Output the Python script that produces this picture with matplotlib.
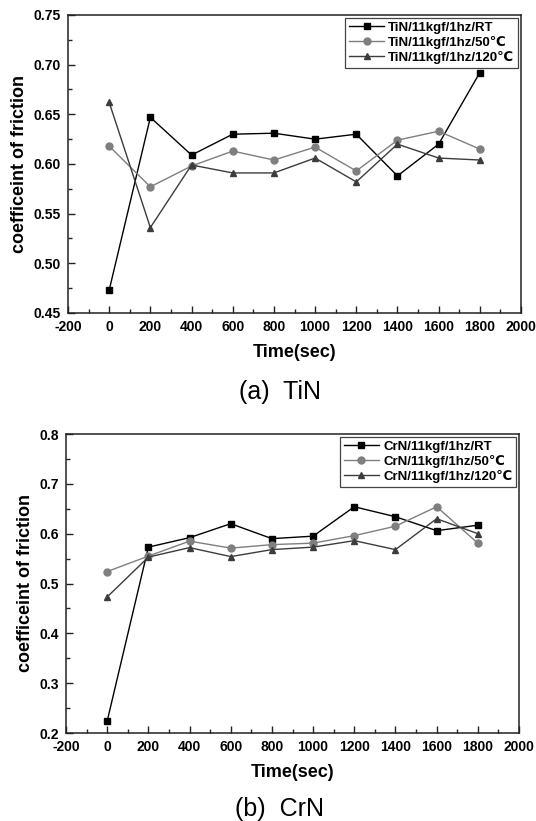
import matplotlib
matplotlib.use("Agg")
import matplotlib.pyplot as plt
from matplotlib.ticker import MultipleLocator, FormatStrFormatter

plt.rcParams['font.family'] = ['Liberation Sans', 'DejaVu Sans']
plt.rcParams['axes.unicode_minus'] = False

time = [0, 200, 400, 600, 800, 1000, 1200, 1400, 1600, 1800]

tin_rt = [0.473, 0.647, 0.609, 0.630, 0.631, 0.625, 0.630, 0.588, 0.620, 0.692]
tin_50 = [0.618, 0.577, 0.598, 0.613, 0.604, 0.617, 0.593, 0.624, 0.633, 0.615]
tin_120 = [0.662, 0.536, 0.599, 0.591, 0.591, 0.606, 0.582, 0.620, 0.606, 0.604]

crn_rt = [0.224, 0.573, 0.592, 0.620, 0.590, 0.595, 0.654, 0.634, 0.606, 0.617]
crn_50 = [0.524, 0.555, 0.585, 0.571, 0.578, 0.581, 0.596, 0.615, 0.654, 0.581]
crn_120 = [0.473, 0.553, 0.572, 0.554, 0.568, 0.573, 0.586, 0.568, 0.630, 0.600]

tin_labels = ["TiN/11kgf/1hz/RT", "TiN/11kgf/1hz/50\u2103", "TiN/11kgf/1hz/120\u2103"]
crn_labels = ["CrN/11kgf/1hz/RT", "CrN/11kgf/1hz/50\u2103", "CrN/11kgf/1hz/120\u2103"]

colors = ["#000000", "#7f7f7f", "#3c3c3c"]
markers = ["s", "o", "^"]

fig = plt.figure(figsize=(5.36, 8.21), dpi=100)
ax1 = fig.add_axes([68/536, 1-313/821, 453/536, 298/821])
ax2 = fig.add_axes([66/536, 1-733/821, 453/536, 299/821])


def style(ax, ylo, yhi, ymaj, ymin, fmt):
    ax.set_xlim(-200, 2000)
    ax.set_ylim(ylo, yhi)
    ax.xaxis.set_major_locator(MultipleLocator(200))
    ax.xaxis.set_minor_locator(MultipleLocator(100))
    ax.yaxis.set_major_locator(MultipleLocator(ymaj))
    ax.yaxis.set_minor_locator(MultipleLocator(ymin))
    ax.tick_params(which='both', direction='in', top=False, right=False, width=1.0, color='#222222')
    ax.tick_params(which='major', length=5, labelsize=10, pad=5)
    ax.tick_params(axis='x', which='major', pad=5)
    ax.tick_params(which='minor', length=3)
    ax.yaxis.set_major_formatter(FormatStrFormatter(fmt))
    for lab in ax.get_xticklabels() + ax.get_yticklabels():
        lab.set_fontweight('bold')
    for s in ax.spines.values():
        s.set_linewidth(1.1)
        s.set_color('#222222')
    ax.set_xlabel("Time(sec)", fontsize=13, fontweight='bold', labelpad=7)
    ax.set_ylabel("coefficeint of friction", fontsize=13, fontweight='bold', labelpad=4)


for ax, series, labels in [(ax1, [tin_rt, tin_50, tin_120], tin_labels),
                           (ax2, [crn_rt, crn_50, crn_120], crn_labels)]:
    for y, c, m, lab in zip(series, colors, markers, labels):
        ax.plot(time, y, color=c, marker=m, markersize=5, linewidth=1.0, label=lab)
    leg = ax.legend(loc='upper right', prop={'weight': 'bold', 'size': 9.5},
                    handlelength=2.6, borderpad=0.3, labelspacing=0.15,
                    handletextpad=0.35, borderaxespad=0.2, fancybox=False,
                    framealpha=1.0)
    leg.get_frame().set_edgecolor('#444444')
    leg.get_frame().set_linewidth(0.9)

style(ax1, 0.45, 0.75, 0.05, 0.025, '%.2f')
style(ax2, 0.2, 0.8, 0.1, 0.05, '%.1f')

fig.text(0.522, 1-392/821, "(a)  TiN", fontsize=18, ha='center', va='center')
fig.text(0.522, 1-809/821, "(b)  CrN", fontsize=18, ha='center', va='center')

fig.savefig("out.png", dpi=100)
